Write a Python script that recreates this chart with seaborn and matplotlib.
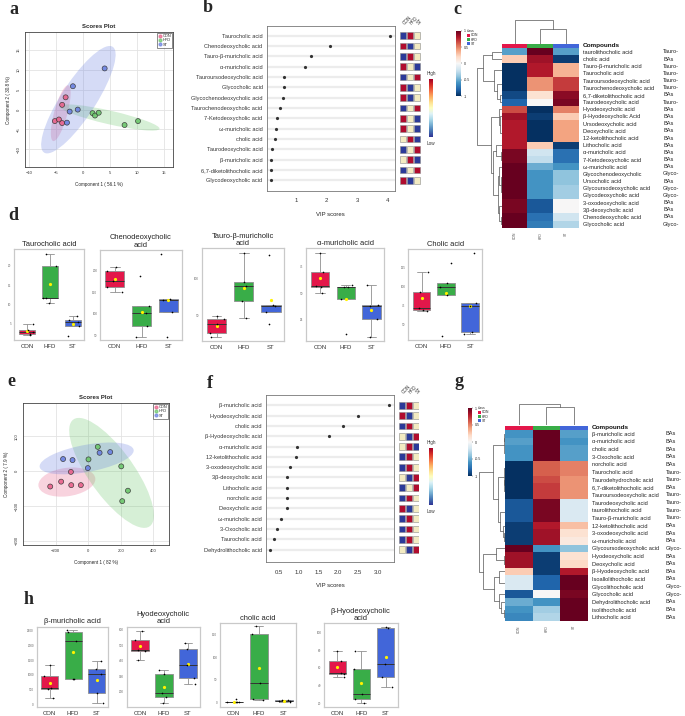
import numpy as np
import pandas as pd
import matplotlib
matplotlib.use('Agg')
import matplotlib.pyplot as plt
import seaborn as sns
from matplotlib.patches import Ellipse, Patch
from matplotlib.lines import Line2D
from matplotlib.colors import ListedColormap

sns.set_style('white')
plt.rcParams['font.family'] = ['Liberation Sans', 'DejaVu Sans']

# ---------------- données ----------------
groups = ['CON', 'HFD', 'ST']

# a : scores plot (PLS-DA)
a_group = ['CON'] * 5 + ['HFD'] * 5 + ['ST'] * 5
a_comp1 = [-3.25, -3.9, -5.25, -4.5, -3.9, 1.75, 2.2, 2.9, 7.7, 10.2, 4.0, -1.9, -1.0, -2.5, -3.0]
a_comp2 = [3.1, 1.2, -2.9, -2.5, -3.4, -0.9, -1.5, -0.8, -3.9, -2.9, 10.4, 5.9, 0.0, -0.5, -3.3]

# e : scores plot
e_group = ['CON'] * 5 + ['HFD'] * 5 + ['ST'] * 5
e_comp1 = [-233, -166, -106, -104, -45, 59, 2, 203, 244, 209, -154, -96, -2, 70, 135]
e_comp2 = [-44, -30, -2, -40, -40, 70, 34, 14, -56, -86, 35, 32, 9, 53, 55]

# b : VIP scores
b_compounds = ['Taurocholic acid', 'Chenodeoxycholic acid', 'Tauro-β-muricholic acid', 'α-muricholic acid',
               'Tauroursodeoxycholic acid', 'Glycocholic acid', 'Glycochenodeoxycholic acid',
               'Taurochenodeoxycholic acid', '7-Ketodeoxycholic acid', 'ω-muricholic acid', 'cholic acid',
               'Taurodeoxycholic acid', 'β-muricholic acid', '6,7-diketolithocholic acid', 'Glycodeoxycholic acid']
b_vip = [4.08, 2.11, 1.49, 1.29, 0.60, 0.59, 0.56, 0.47, 0.39, 0.36, 0.32, 0.21, 0.19, 0.17, 0.17]
b_levels = ['BRY', 'RBY', 'BRY', 'RYB', 'BYR', 'RBY', 'RBY', 'BYR', 'RYB', 'RYB', 'YRB', 'BYR', 'YRB', 'BYR', 'RBY']

# f : VIP scores
f_compounds = ['β-muricholic acid', 'Hyodeoxycholic acid', 'cholic acid', 'β-Hyodeoxycholic acid',
               'α-muricholic acid', '12-ketolithocholic acid', '3-oxodeoxycholic acid', '3β-deoxycholic acid',
               'Lithocholic acid', 'norcholic acid', 'Deoxycholic acid', 'ω-muricholic acid', '3-Oxocholic acid',
               'Taurocholic acid', 'Dehydrolithocholic acid']
f_vip = [3.30, 2.51, 2.13, 1.75, 0.95, 0.92, 0.76, 0.70, 0.69, 0.69, 0.69, 0.53, 0.43, 0.37, 0.27]
f_levels = ['BRY', 'RBY', 'BRY', 'YBR', 'YRB', 'BRY', 'BRY', 'YBR', 'BYR', 'BRY', 'RBY', 'BRY', 'BRY', 'BRY', 'YBR']

# c : heatmap
c_compounds = ['taurolithocholic acid', 'cholic acid', 'Tauro-β-muricholic acid', 'Taurocholic acid',
               'Tauroursodeoxycholic acid', 'Taurochenodeoxycholic acid', '6,7-diketolithocholic acid',
               'Taurodeoxycholic acid', 'Hyodeoxycholic acid', 'β-Hyodeoxycholic Acid', 'Ursodeoxycholic acid',
               'Deoxycholic acid', '12-ketolithocholic acid', 'Lithocholic acid', 'α-muricholic acid',
               '7-Ketodeoxycholic acid', 'ω-muricholic acid', 'Glycochenodeoxycholic', 'Ursocholic acid',
               'Glycoursodeoxycholic acid', 'Glycodeoxycholic acid', '3-oxodeoxycholic acid', '3β-deoxycholic acid',
               'Chenodeoxycholic acid', 'Glycocholic acid']
c_class = ['Tauro-', 'BAs', 'Tauro-', 'Tauro-', 'Tauro-', 'Tauro-', 'BAs', 'Tauro-', 'BAs', 'BAs', 'BAs', 'BAs',
           'BAs', 'BAs', 'BAs', 'BAs', 'BAs', 'Glyco-', 'BAs', 'Glyco-', 'Glyco-', 'BAs', 'BAs', 'BAs', 'Glyco-']
c_con = [-0.55, 0.25, -1.0, -1.0, -1.0, -1.0, -0.9, -0.8, 0.65, 0.85, 0.8, 0.8, 0.8, 0.8, 0.95, 0.95, 1.0,
         1.0, 1.0, 1.0, 1.0, 0.95, 0.95, 1.0, 1.0]
c_hfd = [1.0, 0.85, 0.8, 0.8, 0.45, 0.45, 0.15, 0.0, -1.0, -0.95, -1.0, -1.0, -1.0, 0.25, -0.2, -0.25, -0.5,
         -0.6, -0.6, -0.6, -0.6, -0.85, -0.85, -0.75, -0.7]
c_st = [-0.55, -0.95, 0.35, 0.35, 0.7, 0.7, 0.9, 0.95, 0.5, 0.25, 0.4, 0.4, 0.4, -0.95, -0.75, -0.75, -0.6,
        -0.4, -0.4, -0.35, -0.35, 0.0, 0.0, -0.2, -0.3]

# g : heatmap
g_compounds = ['β-muricholic acid', 'α-muricholic acid', 'cholic acid', '3-Oxocholic acid', 'norcholic acid',
               'Taurocholic acid', 'Taurodehydrocholic acid', '6,7-diketolithocholic acid',
               'Tauroursodeoxycholic acid', 'Taurodeoxycholic acid', 'taurolithocholic acid',
               'Tauro-β-muricholic acid', '12-ketolithocholic acid', '3-oxodeoxycholic acid', 'ω-muricholic acid',
               'Glycoursodeoxycholic acid', 'Hyodeoxycholic acid', 'Deoxycholic acid', 'β-Hyodeoxycholic acid',
               'Isoallolithocholic acid', 'Glycolithocholic acid', 'Glycocholic acid', 'Dehydrolithocholic acid',
               'isolithocholic acid', 'Lithocholic acid']
g_class = ['BAs', 'BAs', 'BAs', 'BAs', 'BAs', 'Tauro-', 'Tauro-', 'BAs', 'Tauro-', 'Tauro-', 'Tauro-', 'Tauro-',
           'BAs', 'BAs', 'BAs', 'Glyco-', 'BAs', 'BAs', 'BAs', 'BAs', 'Glyco-', 'Glyco-', 'BAs', 'BAs', 'BAs']
g_con = [-0.6, -0.55, -0.6, -0.6, -1.0, -1.0, -1.0, -1.0, -1.0, -0.85, -0.85, -0.85, -0.95, -0.95, -0.95,
         1.0, 0.85, 0.85, 0.25, -0.15, -0.15, -0.85, -0.5, -0.6, -0.65]
g_hfd = [1.0, 1.0, 1.0, 1.0, 0.6, 0.6, 0.65, 0.7, 0.7, 0.95, 0.95, 0.95, 0.8, 0.85, 0.85,
         -0.6, -0.95, -0.95, -0.95, -0.8, -0.8, 0.0, -0.6, -0.35, -0.3]
g_st = [-0.55, -0.6, -0.55, -0.55, 0.5, 0.5, 0.45, 0.45, 0.45, -0.15, -0.15, -0.15, 0.3, 0.15, 0.1,
        -0.4, 0.15, 0.2, 0.8, 1.0, 1.0, 0.95, 1.0, 1.0, 1.0]

# d : boxplots
d_titles = ['Taurocholic acid', 'Chenodeoxycholic\nacid', 'Tauro-β-muricholic\nacid', 'α-muricholic acid',
            'Cholic acid']
d_con = [[5.0, 3.35, 2.9, 2.2, 1.95], [209, 200, 177, 163, 150], [49, 45.5, 38.2, 25.5, 20],
         [88, 70.3, 57, 56.3, 50], [119, 92.7, 70.7, 68.5, 67.6]]
d_hfd = [[23.1, 20.0, 11.75, 11.6, 10.45], [187.6, 118, 101, 71.7, 45.4], [135.5, 96, 90, 69.5, 46],
         [57.8, 56.3, 55.5, 44.4, 11.6], [130, 103.7, 98.5, 88.3, 34]]
d_st = [[7.0, 5.9, 5.5, 4.5, 1.8], [238.7, 134, 132, 105, 45.4], [131.8, 64.5, 62.3, 55, 38],
        [57.8, 39, 38, 26, 9.4], [144, 77.3, 73.3, 39.9, 36.8]]
d_yticks = [[5, 10, 15, 20], [50, 100, 150, 200], [50, 100], [25, 50, 75], [50, 75, 100, 125]]

# h : boxplots
h_titles = ['β-muricholic acid', 'Hyodeoxycholic\nacid', 'cholic acid', 'β-Hyodeoxycholic\nacid']
h_con = [[1333, 967, 555, 533, 222], [593.5, 533, 469, 464.5, 404], [7.3, 2.0, 1.5, 1.0, 0.5],
         [79.6, 68, 54, 53.2, 50.2]]
h_hfd = [[2500, 2444, 2144, 867, 860], [340, 314, 189, 163, 129], [168, 150, 44, 8, 5.9],
         [79.6, 58.5, 30.6, 24.9, 20.8]]
h_st = [[1467, 1189, 1033, 411, 78], [512, 475, 372, 290, 249.5], [6.8, 6.2, 4.4, 3.2, 1.5],
        [106, 105.7, 64.5, 49.4, 38.9]]
h_yticks = [[0, 500, 1000, 1500, 2000, 2500], [200, 300, 400, 500, 600], [0, 50, 100, 150],
            [20, 40, 60, 80, 100]]

# couleurs
box_pal = {'CON': '#E3174A', 'HFD': '#39AD48', 'ST': '#4266D9'}
score_pal = {'CON': '#E8618A', 'HFD': '#6CC66C', 'ST': '#6A80E0'}
sq_pal = {0: '#2B3A99', 1: '#F3EBC2', 2: '#B00C2E'}

W, H = 685, 716
fig = plt.figure(figsize=(W / 100, H / 100), dpi=100)
np.random.seed(4)


def add_ax(x, y, w, h):
    return fig.add_axes([x / W, 1 - (y + h) / H, w / W, h / H])


def ftext(x, y, s, **kw):
    fig.text(x / W, 1 - y / H, s, **kw)


def grey_spines(ax, color='#555555', lw=0.6):
    for sp in ax.spines.values():
        sp.set_visible(True)
        sp.set_color(color)
        sp.set_linewidth(lw)


# ---------------- scores plots ----------------
def scores_plot(ax, grp, c1, c2, xlim, ylim, xticks, yticks, xlab, ylab):
    df = pd.DataFrame({'group': grp, 'c1': c1, 'c2': c2})
    for g in groups:
        sub = df[df.group == g]
        cov = np.cov(sub.c1, sub.c2)
        vals, vecs = np.linalg.eigh(cov)
        ang = np.degrees(np.arctan2(vecs[1, 1], vecs[0, 1]))
        w, h = 2 * 2.448 * np.sqrt(vals[::-1])
        ax.add_patch(Ellipse((sub.c1.mean(), sub.c2.mean()), w, h, angle=ang,
                             fc=score_pal[g], ec='none', alpha=0.28, zorder=1))
    sns.scatterplot(data=df, x='c1', y='c2', hue='group', palette=score_pal, s=13,
                    edgecolor='#333333', linewidth=0.5, alpha=0.9, ax=ax, zorder=3, legend=False)
    ax.set_xlim(xlim)
    ax.set_ylim(ylim)
    ax.set_xticks(xticks)
    ax.set_yticks(yticks)
    ax.grid(True, color='#e3e3e3', lw=0.6)
    ax.set_axisbelow(True)
    ax.tick_params(labelsize=3, length=1.5, width=0.4, pad=1.5, colors='#333333')
    plt.setp(ax.get_yticklabels(), rotation=90, va='center')
    ax.set_xlabel(xlab, fontsize=3.3, labelpad=5)
    ax.set_ylabel(ylab, fontsize=3.3, labelpad=4)
    ax.set_title('Scores Plot', fontsize=4.3, fontweight='bold', pad=3)
    grey_spines(ax, '#444444', 0.6)
    handles = [Line2D([], [], marker='o', ls='', color=score_pal[g], markersize=2, alpha=0.7) for g in groups]
    leg = ax.legend(handles, groups, loc='upper right', fontsize=2.8, frameon=True, fancybox=False,
                    borderpad=0.3, handletextpad=0.1, labelspacing=0.1, borderaxespad=0.2, handlelength=1)
    leg.get_frame().set_edgecolor('#333333')
    leg.get_frame().set_linewidth(0.5)


ax_a = add_ax(25, 32, 148, 135)
scores_plot(ax_a, a_group, a_comp1, a_comp2, (-10.8, 16.7), (-14.5, 19.6), [-10, -5, 0, 5, 10, 15],
            [-10, -5, 0, 5, 10, 15], 'Component 1 ( 56.1 %)', 'Component 2 ( 30.8 %)')

ax_e = add_ax(23, 403, 146, 142)
scores_plot(ax_e, e_group, e_comp1, e_comp2, (-400, 496), (-212, 196), [-200, 0, 200, 400],
            [-200, -100, 0, 100], 'Component 1 ( 82 %)', 'Component 2 ( 7.9 %)')


# ---------------- VIP plots ----------------
def vip_plot(ax, sq_ax, cb_ax, names, vip, levels, xlim, ylim, xticks, xticklabels):
    sns.stripplot(x=vip, y=names, orient='h', jitter=False, color='#333333', size=2.3, ax=ax)
    ax.set_xlim(xlim)
    ax.set_ylim(ylim)
    ax.set_xticks(xticks)
    ax.set_xticklabels(xticklabels)
    ax.grid(axis='y', color='#ececec', lw=1.6)
    ax.grid(axis='x', visible=False)
    ax.set_axisbelow(True)
    ax.tick_params(axis='y', length=0, labelsize=4.1, pad=3, colors='#333333')
    ax.tick_params(axis='x', length=2.5, width=0.5, labelsize=4.3, pad=3, colors='#333333', direction='out')
    ax.set_xlabel('VIP scores', fontsize=4.3, labelpad=6)
    grey_spines(ax, '#777777', 0.6)

    rows = pd.DataFrame({'compound': np.repeat(names, 3), 'group': groups * len(names),
                         'level': [{'B': 0, 'Y': 1, 'R': 2}[ch] for lv in levels for ch in lv]})
    sns.scatterplot(data=rows, x='group', y='compound', hue='level', palette=sq_pal, marker='s', s=24,
                    edgecolor='#8a8a8a', linewidth=0.4, ax=sq_ax, legend=False)
    sq_ax.set_ylim(ylim)
    sq_ax.set_xlim(-0.5, 2.5)
    sq_ax.axis('off')
    for i, g in enumerate(groups):
        sq_ax.text(i - 0.2, ylim[1], g, rotation=45, ha='left', va='bottom', fontsize=3.3, color='#333333')

    grad = np.linspace(1, 0, 100).reshape(-1, 1)
    cb_ax.imshow(grad, aspect='auto', cmap='RdYlBu_r')
    cb_ax.set_xticks([])
    cb_ax.set_yticks([])
    for sp in cb_ax.spines.values():
        sp.set_visible(False)
    cb_ax.text(0, -6, 'High', ha='center', va='bottom', fontsize=3.3, color='#333333')
    cb_ax.text(0, 106, 'Low', ha='center', va='top', fontsize=3.3, color='#333333')


ax_b = add_ax(266.7, 26, 128.3, 164.7)
sq_b = add_ax(399.5, 26, 21, 164.7)
cb_b = add_ax(429, 79, 4, 58)
vip_plot(ax_b, sq_b, cb_b, b_compounds, b_vip, b_levels, (0.04, 4.24), (15.0, -0.94), [1, 2, 3, 4],
         ['1', '2', '3', '4'])

ax_f = add_ax(266, 395, 128, 167)
sq_f = add_ax(398.5, 395, 21, 167)
cb_f = add_ax(429, 448, 4, 57)
vip_plot(ax_f, sq_f, cb_f, f_compounds, f_vip, f_levels, (0.16, 3.415), (15.2, -1.0),
         [0.5, 1.0, 1.5, 2.0, 2.5, 3.0], ['0.5', '1.0', '1.5', '2.0', '2.5', '3.0'])


# ---------------- heatmaps ----------------
def contig_tree(X):
    # classification hiérarchique (lien moyen) entre voisins seulement
    X = np.asarray(X, float)
    clus = [[i] for i in range(len(X))]
    pos = [i + 0.5 for i in range(len(X))]
    hts = [0.0] * len(X)
    segs = []
    while len(clus) > 1:
        d = [np.mean([np.linalg.norm(X[a] - X[b]) for a in clus[k] for b in clus[k + 1]])
             for k in range(len(clus) - 1)]
        k = int(np.argmin(d))
        h = max(d[k], hts[k], hts[k + 1])
        segs.append(([pos[k], pos[k], pos[k + 1], pos[k + 1]], [hts[k], h, h, hts[k + 1]]))
        clus[k:k + 2] = [clus[k] + clus[k + 1]]
        pos[k:k + 2] = [(pos[k] + pos[k + 1]) / 2]
        hts[k:k + 2] = [h]
    return segs, hts[0]


def cluster_heatmap(names, classes, con, hfd, st, hm, row_dx, col_dy, cbar, leg_xy, class_x):
    M = np.column_stack([con, hfd, st])
    x0, y0, w, h = hm
    ax = add_ax(x0, y0, w, h)
    cax = add_ax(*cbar)
    sns.heatmap(M, cmap='RdBu_r', vmin=-1, vmax=1, ax=ax, cbar_ax=cax,
                xticklabels=['CON', 'HFD', 'ST'], yticklabels=names)
    ax.yaxis.tick_right()
    ax.tick_params(axis='y', length=0, labelsize=4.1, pad=3, labelcolor='#222222')
    plt.setp(ax.get_yticklabels(), rotation=0)
    ax.tick_params(axis='x', length=0, labelsize=2.4, pad=3, labelcolor='#555555')
    plt.setp(ax.get_xticklabels(), rotation=90)
    for i, cl in enumerate(classes):
        ax.text(3 + class_x / (w / 3), i + 0.5, cl, va='center', ha='left', fontsize=4.1, color='#222222')
    cax.tick_params(labelsize=2.6, length=1, width=0.3, pad=1)
    cax.set_yticks([-1, -0.5, 0, 0.5, 1])
    cax.set_yticklabels(['-1', '-0.5', '0', '0.5', '1'])

    bar_h = 4
    bax = add_ax(x0, y0 - bar_h - 0.5, w, bar_h)
    sns.heatmap([[0, 1, 2]], cmap=ListedColormap([box_pal[g] for g in groups]), cbar=False,
                xticklabels=False, yticklabels=False, ax=bax)
    ftext(x0 + w + 4, y0 - bar_h / 2 - 0.5, 'Compounds', fontsize=4.6, fontweight='bold', va='center',
          color='#111111')

    # dendrogramme des lignes
    rax = add_ax(x0 - row_dx, y0, row_dx, h)
    segs, top = contig_tree(M)
    for ys, xs in segs:
        rax.plot(xs, ys, color='#555555', lw=0.5)
    rax.set_xlim(top * 1.03, 0)
    rax.set_ylim(len(names), 0)
    rax.axis('off')

    # dendrogramme des colonnes
    cdx = add_ax(x0, y0 - bar_h - 0.5 - col_dy, w, col_dy)
    segs, top = contig_tree(M.T)
    for xs, ys in segs:
        cdx.plot(xs, ys, color='#555555', lw=0.5)
    cdx.set_xlim(0, 3)
    cdx.set_ylim(0, top * 1.03)
    cdx.axis('off')

    handles = [Patch(fc=box_pal[g], ec='none') for g in groups]
    fig.legend(handles, groups, title='class', loc='upper left', bbox_to_anchor=(leg_xy[0] / W, 1 - leg_xy[1] / H),
               fontsize=2.4, title_fontsize=2.4, frameon=False, handlelength=0.9, handleheight=0.9,
               handletextpad=0.3, labelspacing=0.1, borderpad=0, borderaxespad=0, alignment='left')


cluster_heatmap(c_compounds, c_class, c_con, c_hfd, c_st, (501.7, 48.3, 77.3, 179.4), 25.7, 24,
                (456, 30.7, 4.7, 65.3), (467, 29), 84)
cluster_heatmap(g_compounds, g_class, g_con, g_hfd, g_st, (505, 430, 82.7, 191), 27, 22,
                (468, 408, 4, 68), (478, 406), 78)


# ---------------- boxplots ----------------
def box_panel(ax, title, con, hfd, st, ylim, yticks):
    df = pd.DataFrame({'group': ['CON'] * len(con) + ['HFD'] * len(hfd) + ['ST'] * len(st),
                       'value': con + hfd + st})
    sns.boxplot(data=df, x='group', y='value', hue='group', palette=box_pal, width=0.72, saturation=1,
                showfliers=False, linecolor='#8f8f8f', linewidth=0.6, showmeans=True,
                meanprops=dict(marker='o', markerfacecolor='#FFF200', markeredgecolor='#FFF200', markersize=1.3),
                medianprops=dict(color='#333333', linewidth=0.7), ax=ax, legend=False)
    sns.stripplot(data=df, x='group', y='value', color='black', size=1.2, jitter=0.3, ax=ax)
    ax.set_ylim(ylim)
    ax.set_xlim(-0.55, 2.5)
    ax.set_yticks(yticks)
    ax.set_title(title, fontsize=5.4, pad=2.5, linespacing=1.05, color='#222222')
    ax.set_xlabel('')
    ax.set_ylabel('')
    ax.tick_params(axis='y', labelsize=2.2, length=1, width=0.3, pad=1, colors='#666666')
    ax.tick_params(axis='x', labelsize=4.3, length=1.2, width=0.3, pad=1.5, colors='#333333')
    grey_spines(ax, '#c9c9c9', 0.9)


d_boxes = [(14.3, 249.3, 70, 90.7), (100, 250, 81.7, 90), (201.7, 248.3, 82.6, 92.7), (306, 248.3, 78.3, 92.7),
           (408.3, 249, 74, 91)]
d_ylims = [(0.75, 24.3), (39.2, 248), (15, 141.4), (5.3, 92.2), (28.9, 149)]
for i in range(5):
    box_panel(add_ax(*d_boxes[i]), d_titles[i], d_con[i], d_hfd[i], d_st[i], d_ylims[i], d_yticks[i])

h_boxes = [(36.7, 626.7, 71.6, 80.6), (126.7, 626.7, 73.3, 80.6), (220, 623.3, 76, 84), (324, 623.3, 73.7, 84)]
h_ylims = [(-78, 2611), (99, 619), (-10.2, 174), (15.5, 110.6)]
for i in range(4):
    box_panel(add_ax(*h_boxes[i]), h_titles[i], h_con[i], h_hfd[i], h_st[i], h_ylims[i], h_yticks[i])

# lettres des panneaux
for lab, x, y in [('a', 14, 9), ('b', 208, 8), ('c', 457, 10), ('d', 13, 215), ('e', 11, 382),
                  ('f', 210, 384), ('g', 459, 382), ('h', 29, 600)]:
    ftext(x, y, lab, fontsize=13, fontweight='bold', family='Liberation Serif', ha='center', va='center')

fig.savefig('out.png', dpi=100, facecolor='white')
